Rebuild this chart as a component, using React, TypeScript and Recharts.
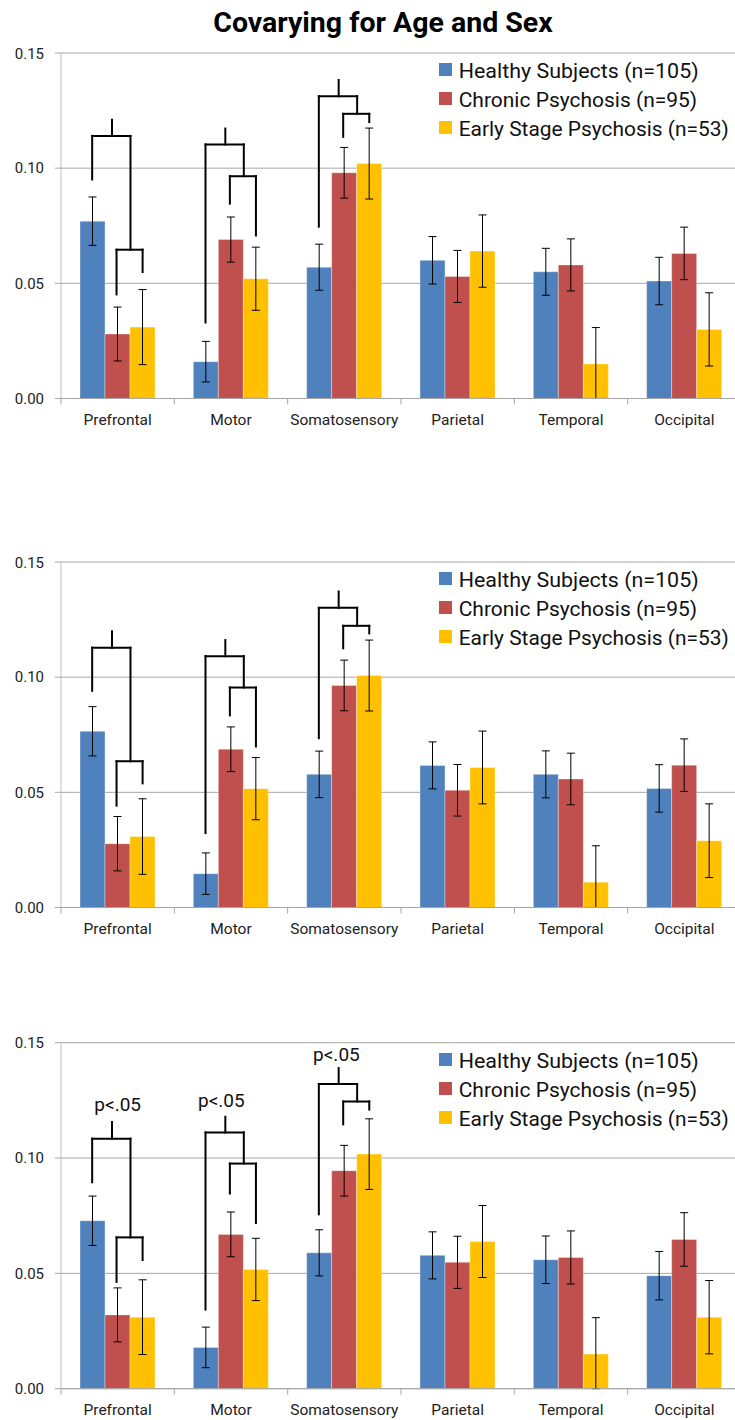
import React from 'react'
import {
  BarChart, Bar, XAxis, YAxis, CartesianGrid, ErrorBar, Legend, ReferenceLine, ReferenceDot,
} from 'recharts'

const regions = ['Prefrontal', 'Motor', 'Somatosensory', 'Parietal', 'Temporal', 'Occipital']
const yTicks = [0, 0.05, 0.1, 0.15]

// panel 1 – covarying for age and sex
const healthy1 = [0.077, 0.016, 0.057, 0.060, 0.055, 0.051]
const healthyErr1 = [0.0105, 0.0088, 0.010, 0.0103, 0.0102, 0.0103]
const chronic1 = [0.028, 0.069, 0.098, 0.053, 0.058, 0.063]
const chronicErr1 = [0.0117, 0.0098, 0.011, 0.0113, 0.0113, 0.0114]
const early1 = [0.031, 0.052, 0.102, 0.064, 0.015, 0.030]
const earlyErr1 = [0.0163, 0.0137, 0.0154, 0.0157, 0.0158, 0.0159]

// panel 2
const healthy2 = [0.0765, 0.0147, 0.0578, 0.0617, 0.0578, 0.0517]
const healthyErr2 = [0.0107, 0.009, 0.0101, 0.0102, 0.0102, 0.0103]
const chronic2 = [0.0277, 0.0687, 0.0964, 0.0509, 0.0558, 0.0618]
const chronicErr2 = [0.0118, 0.0097, 0.011, 0.0112, 0.0112, 0.0114]
const early2 = [0.0308, 0.0516, 0.1007, 0.0608, 0.011, 0.029]
const earlyErr2 = [0.0164, 0.0135, 0.0154, 0.0158, 0.0158, 0.016]

// panel 3
const healthy3 = [0.0728, 0.0179, 0.0589, 0.0578, 0.0559, 0.049]
const healthyErr3 = [0.0107, 0.0088, 0.01, 0.0102, 0.0103, 0.0105]
const chronic3 = [0.032, 0.0669, 0.0945, 0.0548, 0.0569, 0.0647]
const chronicErr3 = [0.0117, 0.0097, 0.011, 0.0113, 0.0115, 0.0116]
const early3 = [0.031, 0.0517, 0.1017, 0.0638, 0.015, 0.031]
const earlyErr3 = [0.0162, 0.0135, 0.0153, 0.0156, 0.0158, 0.0159]

// bracket heights per region: [outerTop, stemTop, outerLeftBottom, innerTop, innerLeftBottom, innerRightBottom]
const brackets1 = [
  [0.114, 0.121, 0.0951, 0.0646, 0.0452, 0.0549],
  [0.1103, 0.1172, 0.033, 0.0965, 0.0846, 0.0708],
  [0.1312, 0.1383, 0.0746, 0.1236, 0.1136, 0.12],
]
const brackets2 = [
  [0.1128, 0.1199, 0.0941, 0.0635, 0.0442, 0.0539],
  [0.1091, 0.1161, 0.0323, 0.0955, 0.0834, 0.0699],
  [0.1301, 0.1372, 0.0735, 0.1223, 0.1125, 0.119],
]
const brackets3 = [
  [0.1084, 0.1156, 0.0895, 0.0656, 0.0463, 0.0558],
  [0.1111, 0.1179, 0.0343, 0.0976, 0.0846, 0.0718],
  [0.1321, 0.139, 0.0756, 0.1245, 0.1146, 0.121],
]
// p-value labels: [region index + offset, y]
const pLabels3 = [
  [0.5, 0.1233],
  [1.415, 0.1252],
  [2.43, 0.1452],
]

const seriesNames = ['Healthy Subjects (n=105)', 'Chronic Psychosis (n=95)', 'Early Stage Psychosis (n=53)']
const legendWidths = [240, 238.5, 270]
const colors = ['#4F81BD', '#C0504D', '#FFC000']

const FONT = 'Roboto, "Noto Sans", sans-serif'
const CHART_W = 742
const PLOT_W = 680
const BAND = PLOT_W / 6
const GRID = '#A6A6A6'

// error bars stop at the axis where the lower whisker would go below zero
const err = (v: number, e: number) => [Math.min(e, v), e]

const build = (h: number[], he: number[], c: number[], ce: number[], e: number[], ee: number[]) =>
  regions.map((r, i) => ({
    region: r,
    pos: i + 0.5,
    healthy: h[i], healthyErr: err(h[i], he[i]),
    chronic: c[i], chronicErr: err(c[i], ce[i]),
    early: e[i], earlyErr: err(e[i], ee[i]),
  }))

const data1 = build(healthy1, healthyErr1, chronic1, chronicErr1, early1, earlyErr1)
const data2 = build(healthy2, healthyErr2, chronic2, chronicErr2, early2, earlyErr2)
const data3 = build(healthy3, healthyErr3, chronic3, chronicErr3, early3, earlyErr3)

const RegionTick = (props: any) => {
  const { x, y, payload, index } = props
  return (
    <g>
      <line x1={x - BAND / 2} x2={x - BAND / 2} y1={y} y2={y + 6} stroke={GRID} />
      {index === 5 && <line x1={x + BAND / 2} x2={x + BAND / 2} y1={y} y2={y + 6} stroke={GRID} />}
      <text x={x} y={y + 26} textAnchor="middle" fontSize={15.5} fill="#222" fontFamily={FONT}>
        {payload.value}
      </text>
    </g>
  )
}

const LegendBox = () => (
  <svg width={296} height={92}>
    {seriesNames.map((name, i) => (
      <g key={name}>
        <rect x={0} y={10 + i * 29} width={13} height={13} fill={colors[i]} />
        <text
          x={19.7}
          y={24.5 + i * 29}
          fontSize={20.5}
          fill="#111"
          fontFamily={FONT}
          textLength={legendWidths[i]}
          lengthAdjust="spacingAndGlyphs"
        >
          {name}
        </text>
      </g>
    ))}
  </svg>
)

function bracketSegments(list: number[][]) {
  const out: { x1: number; y1: number; x2: number; y2: number }[] = []
  list.forEach((b, i) => {
    const oL = i + 0.275, st = i + 0.45, oR = i + 0.613, iL = i + 0.49, iR = i + 0.72
    out.push({ x1: oL, y1: b[2], x2: oL, y2: b[0] })
    out.push({ x1: oL, y1: b[0], x2: oR, y2: b[0] })
    out.push({ x1: st, y1: b[0], x2: st, y2: b[1] })
    out.push({ x1: oR, y1: b[0], x2: oR, y2: b[3] })
    out.push({ x1: iL, y1: b[3], x2: iR, y2: b[3] })
    out.push({ x1: iL, y1: b[3], x2: iL, y2: b[4] })
    out.push({ x1: iR, y1: b[3], x2: iR, y2: b[5] })
  })
  return out
}

interface PanelProps {
  data: any[]
  brackets: number[][]
  labels?: number[][]
  height: number
  top: number
  bottom: number
}

function Panel({ data, brackets, labels = [], height, top, bottom }: PanelProps) {
  const keys = ['healthy', 'chronic', 'early']
  return (
    <BarChart
      width={CHART_W}
      height={height}
      data={data}
      margin={{ top, right: 1, left: 0, bottom }}
      barCategoryGap={19}
      barGap={0}
    >
      <CartesianGrid vertical={false} stroke={GRID} />
      <XAxis
        dataKey="region"
        axisLine={{ stroke: GRID }}
        tickLine={false}
        tickSize={0}
        tickMargin={0}
        height={30}
        interval={0}
        tick={<RegionTick />}
      />
      <XAxis
        xAxisId="n"
        dataKey="pos"
        type="number"
        domain={[0, 6]}
        allowDataOverflow
        padding={{ left: 0, right: 0 }}
        hide
      />
      <YAxis
        width={61}
        domain={[0, 0.15]}
        ticks={yTicks}
        allowDataOverflow
        tickFormatter={(v: number) => v.toFixed(2)}
        axisLine={{ stroke: '#BFBFBF' }}
        tickLine={{ stroke: GRID }}
        tickSize={6}
        tickMargin={11}
        tick={{ fontSize: 15, fill: '#222', fontFamily: FONT }}
      />
      <Legend
        layout="vertical"
        align="center"
        verticalAlign="middle"
        wrapperStyle={{ top: top, left: 439, width: 296, height: 92 }}
        content={<LegendBox />}
      />
      {keys.map((k, i) => (
        <Bar
          key={k}
          dataKey={k}
          name={seriesNames[i]}
          fill={colors[i]}
          stroke="#ffffff"
          strokeOpacity={0.35}
          isAnimationActive={false}
        >
          <ErrorBar dataKey={k + 'Err'} width={4} stroke="#000" strokeWidth={1} />
        </Bar>
      ))}
      {bracketSegments(brackets).map((s, j) => (
        <ReferenceLine
          key={'b' + j}
          xAxisId="n"
          segment={[{ x: s.x1, y: s.y1 }, { x: s.x2, y: s.y2 }]}
          stroke="#000"
          strokeWidth={2}
          strokeLinecap="square"
          ifOverflow="visible"
        />
      ))}
      {labels.map((l, j) => (
        <ReferenceDot
          key={'p' + j}
          xAxisId="n"
          x={l[0]}
          y={l[1]}
          ifOverflow="visible"
          shape={(p: any) => (
            <text x={p.cx} y={p.cy + 7} textAnchor="middle" fontSize={19} fill="#111" fontFamily={FONT}>
              p&lt;.05
            </text>
          )}
        />
      ))}
    </BarChart>
  )
}

export default function App() {
  return (
    <div style={{ width: 735, height: 1420, overflow: 'hidden', background: '#fff', fontFamily: FONT }}>
      <style>{'html,body{margin:0;padding:0;overflow:hidden;}'}</style>
      <svg width={735} height={45} style={{ display: 'block' }}>
        <text x={383} y={32} textAnchor="middle" fontSize={28.5} fontWeight="bold" fill="#000" fontFamily={FONT}>
          Covarying for Age and Sex
        </text>
      </svg>
      <Panel data={data1} brackets={brackets1} height={509} top={8} bottom={125.5} />
      <Panel data={data2} brackets={brackets2} height={480} top={8} bottom={96.5} />
      <Panel data={data3} brackets={brackets3} labels={pLabels3} height={386} top={8.7} bottom={1.3} />
    </div>
  )
}
